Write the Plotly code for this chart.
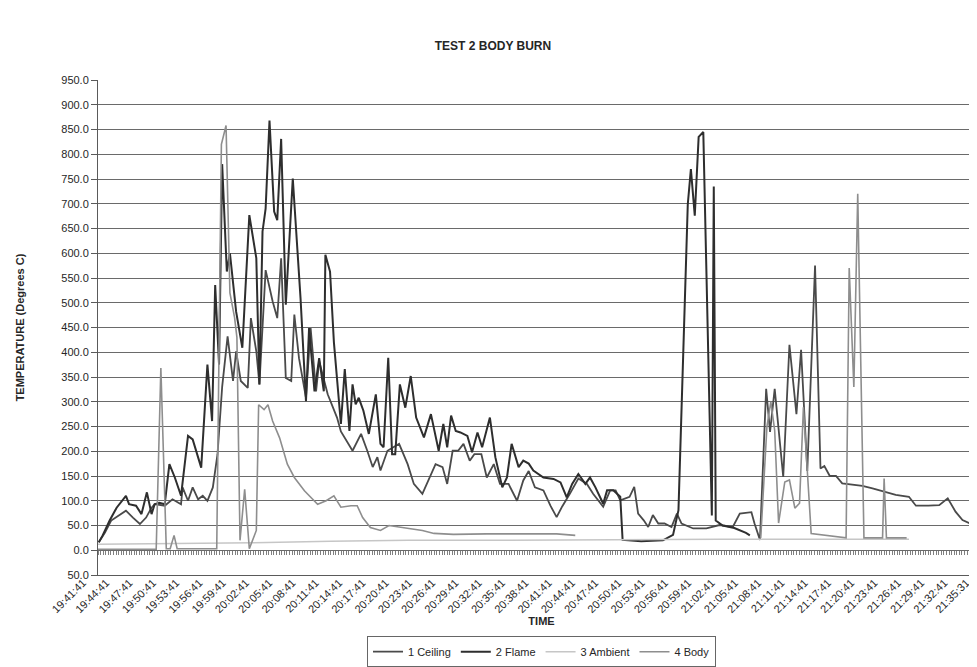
import plotly.graph_objects as go

# ---------------- data ----------------
TICK_LABELS = ["19:41:41", "19:44:41", "19:47:41", "19:50:41", "19:53:41", "19:56:41",
               "19:59:41", "20:02:41", "20:05:41", "20:08:41", "20:11:41", "20:14:41",
               "20:17:41", "20:20:41", "20:23:41", "20:26:41", "20:29:41", "20:32:41",
               "20:35:41", "20:38:41", "20:41:41", "20:44:41", "20:47:41", "20:50:41",
               "20:53:41", "20:56:41", "20:59:41", "21:02:41", "21:05:41", "21:08:41",
               "21:11:41", "21:14:41", "21:17:41", "21:20:41", "21:23:41", "21:26:41",
               "21:29:41", "21:32:41", "21:35:31"]

Y_TICKS = [-50, 0, 50, 100, 150, 200, 250, 300, 350, 400, 450, 500, 550,
           600, 650, 700, 750, 800, 850, 900, 950]
Y_TICK_LABELS = ["50.0", "0.0", "50.0", "100.0", "150.0", "200.0", "250.0", "300.0",
                 "350.0", "400.0", "450.0", "500.0", "550.0", "600.0", "650.0",
                 "700.0", "750.0", "800.0", "850.0", "900.0", "950.0"]

# elapsed minutes after 19:41:41 and temperature (deg C)
ceiling_min = [0.1, 0.9, 1.7, 3.6, 4.5, 5.4, 6.2, 6.9, 7.3, 8.6, 9.6, 10.7, 10.9, 11.6,
               12.2, 12.9, 13.5, 14.1, 14.8, 15.4, 16.0, 16.7, 17.4, 17.8, 18.4, 19.3,
               19.7, 20.4, 20.8, 21.6, 22.5, 23.1, 23.6, 24.2, 24.9, 25.3, 25.9, 26.8,
               27.4, 28.1, 28.5, 29.4, 29.6, 30.8, 31.3, 32.8, 33.9, 34.7, 35.4, 36.0,
               36.4, 37.3, 38.0, 38.8, 39.9, 40.7, 41.8, 42.6, 43.5, 44.4, 45.0, 45.7,
               46.4, 47.1, 47.9, 48.5, 49.4, 50.1, 51.0, 51.8, 52.9, 54.0, 54.8, 55.5,
               56.3, 57.4, 58.3, 59.1, 59.8, 60.8, 61.9, 63.0, 63.8, 65.1, 66.0, 66.7,
               67.3, 68.5, 69.1, 69.6, 70.3, 70.9, 71.5, 72.2, 73.0, 73.9, 74.6, 75.2,
               76.7, 78.4, 80.1, 81.8, 82.7, 84.2, 84.6, 85.3, 86.1, 86.6, 87.2, 88.3,
               89.1, 90.0, 90.6, 91.4, 92.4, 93.1, 93.6, 94.3, 95.1, 95.9, 98.5, 99.8,
               101.0, 102.8, 104.5, 105.4, 107.0, 108.4, 109.5, 110.5, 111.4, 112.5,
               113.1, 113.5, 114.0]
ceiling_temp = [16, 36, 60, 80, 66, 53, 66, 86, 93, 90, 103, 93, 127, 100,
                127, 103, 110, 100, 127, 194, 330, 432, 342, 402, 342, 328,
                469, 402, 335, 566, 503, 469, 590, 348, 342, 476, 388, 308,
                449, 321, 382, 328, 315, 268, 240, 201, 235, 201, 168, 188,
                161, 201, 208, 215, 174, 134, 114, 141, 174, 168, 134, 201,
                201, 215, 181, 194, 194, 147, 174, 134, 134, 100, 141, 160,
                127, 121, 90, 67, 88, 114, 145, 134, 114, 88, 121, 121,
                101, 108, 128, 74, 61, 47, 71, 54, 54, 47, 74, 54,
                44, 44, 51, 47, 74, 77, 54, 21, 326, 239, 326, 148,
                415, 275, 405, 160, 575, 165, 170, 150, 150, 135, 130, 125,
                120, 112, 108, 90, 90, 91, 105, 78, 61, 53,
                128, 343, 365]

flame_min = [0.1, 0.6, 1.5, 2.4, 3.6, 4.0, 4.9, 5.6, 6.3, 6.9, 7.3, 7.9, 8.6, 9.2,
             9.9, 10.7, 11.6, 12.2, 13.3, 14.1, 14.7, 15.1, 15.6, 16.0, 16.6, 17.0,
             17.8, 18.6, 19.5, 20.4, 20.8, 21.2, 21.6, 22.1, 22.7, 23.1, 23.6, 24.2,
             25.1, 26.1, 26.8, 27.2, 27.9, 28.5, 29.1, 29.3, 29.9, 30.4, 31.3, 31.8,
             32.4, 32.8, 33.2, 33.6, 34.2, 34.9, 35.8, 36.4, 36.8, 37.4, 37.9, 38.3,
             38.9, 39.6, 40.3, 41.0, 42.0, 42.9, 43.9, 44.5, 45.0, 45.5, 46.1, 46.7,
             47.6, 48.2, 48.9, 49.5, 50.5, 51.2, 52.1, 52.7, 53.3, 54.2, 54.8, 55.5,
             56.1, 57.4, 58.7, 59.6, 60.4, 61.1, 61.9, 62.8, 63.4, 64.1, 65.1, 65.6,
             66.4, 67.3, 67.6, 70.0, 72.8, 74.1, 74.8, 76.0, 76.4, 76.9, 77.4, 78.0,
             79.1, 79.35, 79.6, 80.5, 82.0, 83.5, 84.0]
flame_temp = [16, 30, 60, 86, 110, 93, 90, 73, 117, 73, 93, 96, 93, 174,
              147, 110, 231, 224, 167, 375, 261, 536, 375, 780, 563, 600,
              482, 409, 677, 590, 335, 644, 690, 868, 684, 667, 831, 496,
              751, 509, 301, 449, 321, 388, 321, 597, 563, 420, 255, 366,
              241, 335, 295, 308, 282, 235, 315, 215, 208, 389, 194, 194,
              335, 288, 352, 268, 228, 275, 201, 255, 208, 272, 241, 238,
              231, 198, 238, 208, 268, 188, 127, 147, 215, 168, 181, 175,
              161, 147, 144, 137, 107, 134, 154, 134, 147, 127, 94, 121,
              121, 108, 21, 18, 20, 31, 81, 699, 770, 676, 835, 845,
              70, 735, 60, 50, 45, 35, 30]

ambient_min = [0, 10, 20, 30, 40, 50, 60, 70, 80, 90, 104.5]
ambient_temp = [12, 13, 15, 18, 20, 20, 21, 21, 22, 22, 22]

body_min = [0, 7.5, 8.1, 8.8, 9.3, 9.8, 10.2, 15.3, 15.9, 16.5, 17.0, 17.6, 17.9,
            18.3, 18.9, 19.5, 20.4, 20.7, 21.4, 21.9, 22.5, 23.4, 24.4, 25.3, 26.6,
            28.3, 29.4, 30.4, 31.3, 32.6, 33.4, 34.1, 35.1, 36.4, 37.5, 39.0, 40.5,
            41.8, 43.3, 45.8, 50.1, 56.1, 59.1, 61.5, 73.0, 85.4, 86.2, 86.7, 87.2,
            87.7, 88.5, 89.1, 89.8, 90.4, 90.9, 91.9, 96.4, 96.8, 97.4, 97.9, 98.7,
            101.1, 101.3, 101.6, 104.2]
body_temp = [2, 2, 368, 3, 3, 30, 3, 3, 820, 858, 520, 470, 430,
             20, 123, 3, 40, 294, 284, 294, 261, 227, 174, 147, 120,
             93, 100, 110, 87, 90, 90, 66, 46, 40, 50, 46, 43,
             40, 34, 32, 33, 33, 33, 30, None, 25, 250, 300, 242,
             55, 138, 142, 85, 95, 289, 34, 25, 570, 330, 720, 25,
             25, 145, 25, 25]

# ---------------- figure ----------------
def to_min(label):
    h, m, s = (int(p) for p in label.split(":"))
    return h * 60 + m + s / 60.0

t0 = to_min(TICK_LABELS[0])
tick_pos = [to_min(l) - t0 for l in TICK_LABELS]

FONT = "Liberation Sans, Arial, sans-serif"
TXT = "#262626"

fig = go.Figure()
series = [
    ("1 Ceiling", ceiling_min, ceiling_temp, "#4a4a4a", 1.8),
    ("2 Flame", flame_min, flame_temp, "#2e2e2e", 2.0),
    ("3 Ambient", ambient_min, ambient_temp, "#c6c6c6", 1.5),
    ("4 Body", body_min, body_temp, "#8e8e8e", 1.6),
]
for name, xs, ys, col, w in series:
    fig.add_trace(go.Scatter(x=xs, y=ys, name=name, mode="lines",
                             line=dict(color=col, width=w), connectgaps=False))

X_RANGE = [0, 114.3]

fig.update_layout(
    width=977, height=667,
    margin=dict(l=90, r=0, t=72, b=100, autoexpand=False),
    paper_bgcolor="white", plot_bgcolor="white",
    font=dict(family=FONT, size=11, color=TXT),
    title=dict(text="<b>TEST 2 BODY BURN</b>", x=0.4964, xref="container",
               y=1 - 38 / 667, yref="container", yanchor="middle", xanchor="center",
               font=dict(size=12, color=TXT)),
    xaxis=dict(range=X_RANGE, tickmode="array", tickvals=tick_pos, ticktext=TICK_LABELS,
               tickangle=-45, ticks="", showgrid=False, zeroline=False,
               showline=True, linecolor="#5a5a5a", linewidth=1,
               ticklabeloverflow="allow", ticklabelstandoff=-4, ticklabelshift=-15,
               tickfont=dict(size=11, color=TXT),
               title=dict(text="<b>TIME</b>", standoff=2, font=dict(size=11, color=TXT))),
    xaxis2=dict(range=X_RANGE, overlaying="x", anchor="free", position=0.05,
                showline=True, linecolor="#6a6a6a", linewidth=1,
                ticks="outside", tick0=0, dtick=1 / 3, ticklen=4, tickwidth=1,
                tickcolor="#808080", showticklabels=False, showgrid=False,
                zeroline=False),
    yaxis=dict(range=[-50, 950], tickmode="array", tickvals=Y_TICKS,
               ticktext=Y_TICK_LABELS, showgrid=True, gridcolor="#6a6a6a",
               gridwidth=1.2, zeroline=False, showline=True, linecolor="#5a5a5a",
               linewidth=1, ticks="outside", ticklen=6, tickcolor="#5a5a5a",
               tickfont=dict(size=11, color=TXT),
               title=dict(text="<b>TEMPERATURE (Degrees C)</b>", standoff=34,
                          font=dict(size=11, color=TXT))),
    legend=dict(orientation="h", x=0.5, xanchor="center", y=-0.155, yanchor="middle",
                bordercolor="#666666", borderwidth=1, font=dict(size=11, color=TXT),
                bgcolor="white", tracegroupgap=0, itemwidth=30),
    showlegend=True,
)
# make overlay axis visible even though no trace uses it
fig.add_trace(go.Scatter(x=X_RANGE, y=[None, None], xaxis="x2", showlegend=False,
                         hoverinfo="skip", mode="lines"))

fig.write_html("out.html")
